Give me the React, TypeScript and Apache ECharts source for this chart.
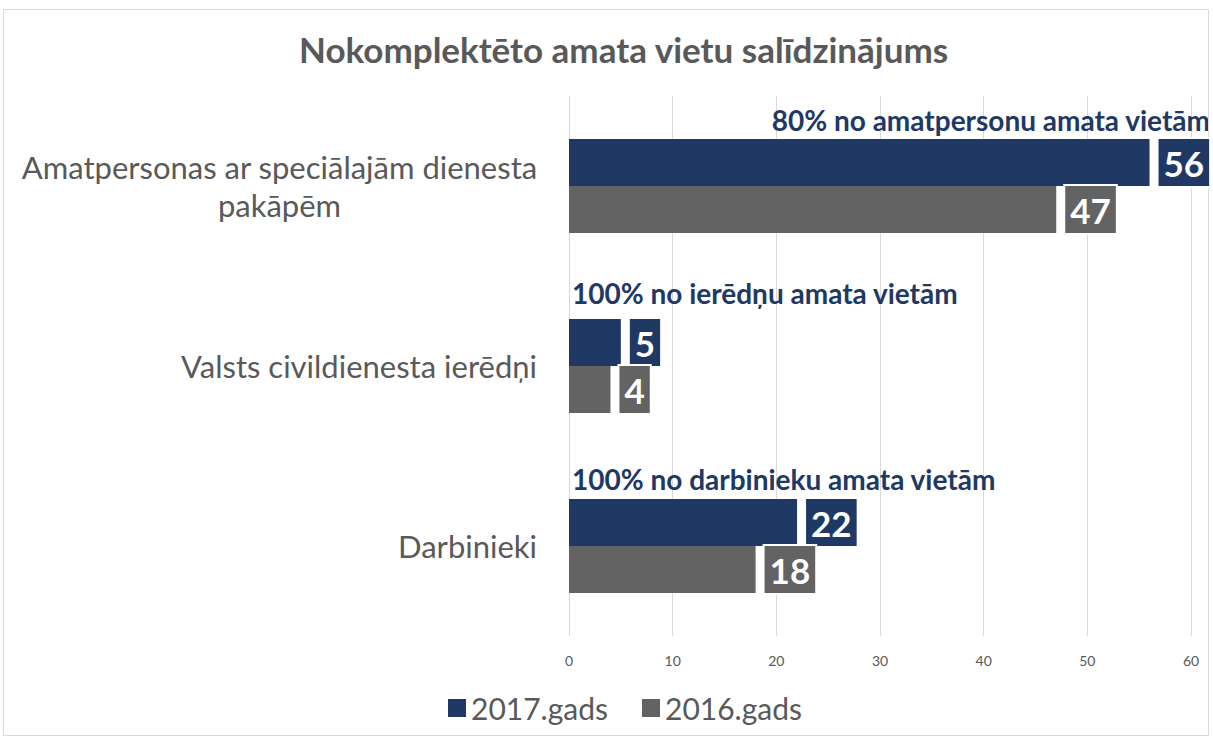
import React, { useEffect, useRef } from "react";
import * as echarts from "echarts";

const categories = [
  "Amatpersonas ar speciālajām dienesta pakāpēm",
  "Valsts civildienesta ierēdņi",
  "Darbinieki",
];
const values2017 = [56, 5, 22];
const values2016 = [47, 4, 18];
const seriesNames = ["2017.gads", "2016.gads"];
const annotations = [
  "80% no amatpersonu amata vietām",
  "100% no ierēdņu amata vietām",
  "100% no darbinieku amata vietām",
];
const xTicks = [0, 10, 20, 30, 40, 50, 60];

const NAVY = "#1F3864";
const GRAY = "#636363";
const TEXT = "#595959";
const FONT = "Lato, 'Open Sans', sans-serif";

export default function App() {
  const ref = useRef<HTMLDivElement>(null);
  useEffect(() => {
    const chart = echarts.init(ref.current!, null, { renderer: "svg" });
    const valueLabel = (color: string) => ({
      show: true,
      position: "right",
      distance: 9,
      color: "#fff",
      fontFamily: FONT,
      fontWeight: "bold",
      fontSize: 35,
      lineHeight: 38,
      backgroundColor: color,
      borderColor: "#fff",
      borderWidth: 2,
      padding: [5, 5, 4, 5],
    });
    chart.setOption({
      animation: false,
      backgroundColor: "#fff",
      title: {
        text: "Nokomplektēto amata vietu salīdzinājums",
        left: 294,
        top: 26,
        textStyle: { color: TEXT, fontFamily: FONT, fontWeight: "bold", fontSize: 35 },
      },
      legend: {
        bottom: 12,
        left: 443,
        itemWidth: 18,
        itemHeight: 18,
        itemGap: 34,
        icon: "rect",
        textStyle: { color: TEXT, fontFamily: FONT, fontSize: 30 },
        data: seriesNames,
      },
      grid: { left: 569, right: 22, top: 96, bottom: 104 },
      xAxis: {
        type: "value",
        min: xTicks[0],
        max: xTicks[xTicks.length - 1],
        interval: 10,
        axisLine: { show: false },
        axisTick: { show: false },
        axisLabel: { color: TEXT, fontFamily: FONT, fontSize: 14, margin: 17 },
        splitLine: { lineStyle: { color: "#d9d9d9", width: 1 } },
      },
      yAxis: {
        type: "category",
        inverse: true,
        data: categories,
        axisLine: { show: false },
        axisTick: { show: false },
        axisLabel: {
          margin: 32,
          color: TEXT,
          fontFamily: FONT,
          fontSize: 31,
          lineHeight: 38,
          formatter: (v: string, i: number) =>
            i === 0
              ? "{c|Amatpersonas ar speciālajām dienesta}\n{c|pakāpēm}"
              : v,
          rich: {
            c: {
              width: 515,
              align: "center",
              color: TEXT,
              fontFamily: FONT,
              fontSize: 31,
              lineHeight: 38,
            },
          },
        },
      },
      series: [
        {
          name: seriesNames[0],
          type: "bar",
          data: values2017,
          barWidth: 47,
          barGap: "0%",
          itemStyle: { color: NAVY },
          label: valueLabel(NAVY),
        },
        {
          name: seriesNames[1],
          type: "bar",
          data: values2016,
          barWidth: 47,
          barGap: "0%",
          itemStyle: { color: GRAY },
          label: valueLabel(GRAY),
        },
      ],
    });

    const annDy = [-66, -73, -67];
    const x0 = chart.convertToPixel({ xAxisIndex: 0 }, 0) as number;
    const xMax = chart.convertToPixel({ xAxisIndex: 0 }, 60) as number;
    const graphics: any[] = annotations.map((t, i) => {
      const yc = chart.convertToPixel({ yAxisIndex: 0 }, categories[i]) as number;
      return {
        type: "text",
        x: i === 0 ? xMax + 19 : x0 + 3,
        y: yc + annDy[i],
        style: {
          text: t,
          fill: NAVY,
          font: `bold 28px ${FONT}`,
          textAlign: i === 0 ? "right" : "left",
          textVerticalAlign: "middle",
        },
      };
    });
    graphics.push({
      type: "rect",
      shape: { x: 3.5, y: 9.5, width: 1205, height: 726 },
      style: { fill: "none", stroke: "#d9d9d9", lineWidth: 1 },
      silent: true,
    });
    chart.setOption({ graphic: graphics });

    return () => chart.dispose();
  }, []);
  return (
    <div
      ref={ref}
      style={{ position: "fixed", left: 0, top: 0, width: 1213, height: 740 }}
    />
  );
}
